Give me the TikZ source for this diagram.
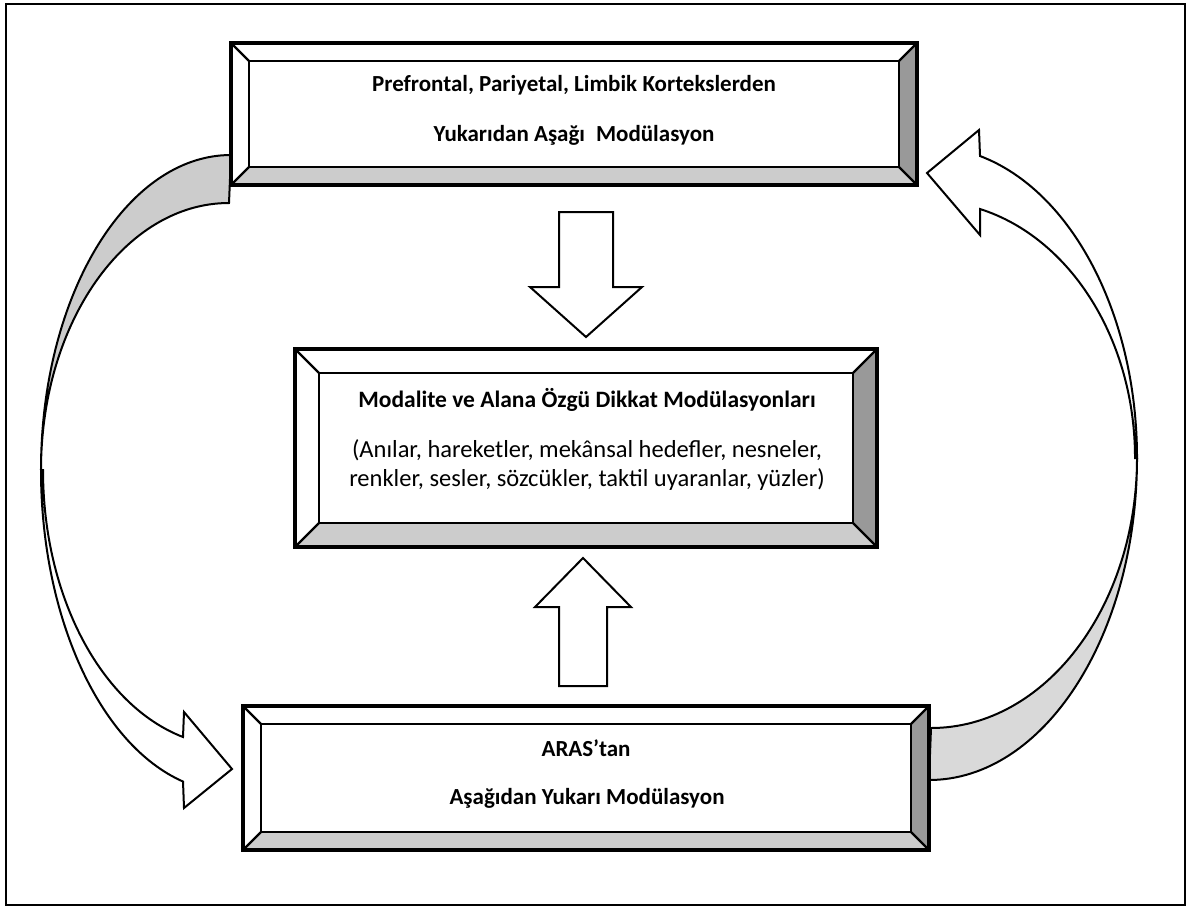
\documentclass[tikz,border=0pt]{standalone}
\usepackage{fontspec}
\setmainfont{Carlito}
\usetikzlibrary{calc}
\definecolor{bandL}{gray}{0.80}
\definecolor{bandR}{gray}{0.85}
\definecolor{bevR}{gray}{0.60}
\definecolor{bevB}{gray}{0.80}
\tikzset{
  boxnode/.style={rectangle,inner sep=0pt,outer sep=0pt,draw=none},
  outerln/.style={line width=3.6pt,line join=miter},
  innerln/.style={line width=2.2pt},
  shapeln/.style={draw=black,line width=2pt,line join=miter},
  lbl/.style={inner sep=0pt,font=\bfseries\fontsize{23}{27}\selectfont},
  lblm/.style={inner sep=0pt,font=\bfseries\fontsize{23.5}{28}\selectfont},
  lblr/.style={inner sep=0pt,font=\fontsize{24.5}{29}\selectfont},
}
\newcommand{\bevelbox}[2]{%
  \fill[white] (#1.north west) -- (#1.north east) -- ($(#1.north east)+(-#2,-#2)$) -- ($(#1.north west)+(#2,-#2)$) -- cycle;
  \fill[bevR] (#1.north east) -- (#1.south east) -- ($(#1.south east)+(-#2,#2)$) -- ($(#1.north east)+(-#2,-#2)$) -- cycle;
  \fill[bevB] (#1.south east) -- (#1.south west) -- ($(#1.south west)+(#2,#2)$) -- ($(#1.south east)+(-#2,#2)$) -- cycle;
  \fill[white] (#1.south west) -- (#1.north west) -- ($(#1.north west)+(#2,-#2)$) -- ($(#1.south west)+(#2,#2)$) -- cycle;
  \fill[white] ($(#1.north west)+(#2,-#2)$) rectangle ($(#1.south east)+(-#2,#2)$);
  \draw[innerln] ($(#1.north west)+(#2,-#2)$) rectangle ($(#1.south east)+(-#2,#2)$);
  \draw[innerln] (#1.north west) -- ($(#1.north west)+(#2,-#2)$);
  \draw[innerln] (#1.north east) -- ($(#1.north east)+(-#2,-#2)$);
  \draw[innerln] (#1.south east) -- ($(#1.south east)+(-#2,#2)$);
  \draw[innerln] (#1.south west) -- ($(#1.south west)+(#2,#2)$);
  \draw[outerln] (#1.north west) rectangle (#1.south east);
}
\begin{document}
\begin{tikzpicture}[x=1pt,y=1pt]
\useasboundingbox (0,0) rectangle (1188,-908);
% outer frame
\draw[line width=2pt] (6,-4) rectangle (1185,-905);

% box nodes (geometry only)
\node[boxnode,minimum width=686pt,minimum height=142pt] (top) at (574,-114) {};
\node[boxnode,minimum width=582pt,minimum height=198pt] (mid) at (586,-448) {};
\node[boxnode,minimum width=686pt,minimum height=144pt] (bot) at (586,-778) {};

% left curved arrow: grey back band
\coordinate (LA) at (top.west |- 0,-155);
\fill[bandL,shapeln] (LA) arc[start angle=90,end angle=180,x radius=190,y radius=315]
  arc[start angle=180,end angle=90,x radius=188,y radius=267] -- cycle;
% left curved arrow: white front with head
\coordinate (LB) at (41,-470);
\coordinate (LT) at (232,-769);
\fill[white,shapeln] (LB) arc[start angle=180,end angle=255.37,x radius=190,y radius=322]
  -- (184,-808) -- (LT) -- (184,-712) -- (183,-737)
  arc[start angle=255.2,end angle=180,x radius=188,y radius=276] -- cycle;

% right curved arrow: grey back band
\coordinate (RA) at (bot.east |- 0,-780);
\fill[bandR,shapeln] (RA) arc[start angle=270,end angle=360,x radius=208,y radius=322]
  arc[start angle=0,end angle=-90,x radius=206,y radius=270] -- cycle;
% right curved arrow: white front with head
\coordinate (RB) at (1137,-458);
\coordinate (RT) at (927,-173);
\fill[white,shapeln] (RB) arc[start angle=0,end angle=75.8,x radius=208,y radius=311.5]
  -- (979,-130) -- (RT) -- (980,-235) -- (980,-209)
  arc[start angle=75.67,end angle=0,x radius=206,y radius=257] -- cycle;

% boxes
\bevelbox{top}{18}
\bevelbox{mid}{24}
\bevelbox{bot}{18}

% block arrow down (top -> mid)
\coordinate (dT) at (586,-212);
\coordinate (dtip) at (586,-337);
\draw[shapeln,fill=white] ($(dT)+(-27,0)$) -- ($(dT)+(27,0)$) -- ($(dtip)+(27,50)$) -- ($(dtip)+(56,50)$)
  -- (dtip) -- ($(dtip)+(-56,50)$) -- ($(dtip)+(-27,50)$) -- cycle;
% block arrow up (bot -> mid)
\coordinate (uB) at (583,-686);
\coordinate (utip) at (583,-558);
\draw[shapeln,fill=white] ($(uB)+(-24,0)$) -- ($(uB)+(24,0)$) -- ($(utip)+(24,-49)$) -- ($(utip)+(48,-49)$)
  -- (utip) -- ($(utip)+(-48,-49)$) -- ($(utip)+(-24,-49)$) -- cycle;

% texts
\node[lbl] (t1) at (574,-85) {Prefrontal, Pariyetal, Limbik Kortekslerden};
\node[lbl] (t2) at (574,-135) {Yukarıdan Aşağı\hspace{0.25em} Modülasyon};
\node[lblm] (m1) at (587,-400) {Modalite ve Alana Özgü Dikkat Modülasyonları};
\node[lblr] (m2) at (587,-450) {(Anılar, hareketler, mekânsal hedefler, nesneler,};
\node[lblr] (m3) at (587,-480) {renkler, sesler, sözcükler, taktil uyaranlar, yüzler)};
\node[lbl] (b1) at (586,-748) {ARAS’tan};
\node[lbl] (b2) at (587,-798) {Aşağıdan Yukarı Modülasyon};
\end{tikzpicture}
\end{document}
